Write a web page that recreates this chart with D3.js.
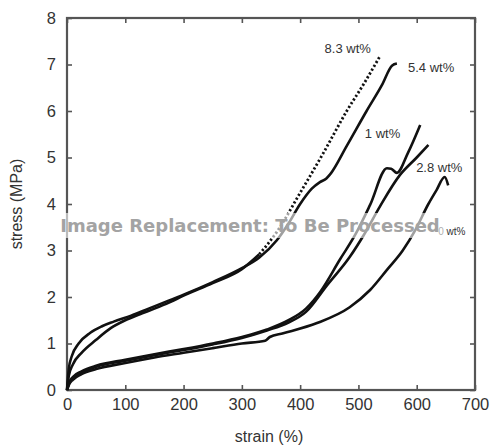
<!DOCTYPE html>
<html>
<head>
<meta charset="utf-8">
<script src="https://cdn.jsdelivr.net/npm/d3@7"></script>
<style>
  body { margin: 0; background: #fff; }
  text { font-family: "Liberation Sans", Arial, sans-serif; }
</style>
</head>
<body>
<div class="canvas"></div>
<script>
const width = 492;
const height = 447;
let [mt, mr, mb, ml] = [18, 17, 57, 67]
let graphWidth = width - ml - mr
let graphHeight = height - mt - mb

// strain (%) / stress (MPa)
const names = ["8.3 wt%", "5.4 wt%", "1 wt%", "2.8 wt%", "0 wt%"]
const curve83 = [[0,0],[3,0.3],[10,0.55],[25,0.8],[50,1.08],[75,1.33],[100,1.5],[125,1.63],[150,1.75],[175,1.88],[200,2.03],[250,2.3],[300,2.6],[330,2.92],[360,3.4],[400,4.24],[440,5.1],[480,6.0],[510,6.6],[537,7.18]]
const curve54 = [[0,0],[3,0.45],[8,0.72],[20,1.0],[40,1.23],[60,1.37],[80,1.47],[110,1.6],[140,1.75],[170,1.9],[200,2.05],[250,2.32],[300,2.62],[330,2.85],[360,3.22],[380,3.58],[400,4.0],[420,4.33],[434,4.47],[445,4.55],[451,4.63],[480,5.25],[514,6.0],[540,6.55],[558,6.98],[566,7.02]]
const curve1 = [[0,0],[4,0.17],[10,0.28],[25,0.4],[50,0.52],[100,0.65],[150,0.77],[200,0.88],[250,1.0],[300,1.14],[343,1.3],[380,1.5],[410,1.75],[435,2.12],[468,2.8],[495,3.35],[520,3.98],[549,4.77],[556,4.76],[566,4.67],[585,5.1],[606,5.7]]
const curve28 = [[0,0],[4,0.15],[10,0.26],[25,0.38],[50,0.5],[100,0.63],[150,0.75],[200,0.86],[250,0.98],[300,1.12],[343,1.28],[380,1.45],[410,1.68],[446,2.25],[485,2.86],[510,3.35],[537,3.95],[571,4.62],[600,5.0],[620,5.27]]
const curve0 = [[0,0],[4,0.13],[10,0.22],[25,0.34],[50,0.45],[100,0.58],[150,0.7],[200,0.8],[250,0.9],[300,1.0],[340,1.06],[348,1.14],[371,1.22],[429,1.44],[485,1.78],[520,2.15],[550,2.6],[576,3.0],[598,3.45],[620,4.0],[634,4.3],[648,4.58],[654,4.4]]
const curves = [curve83, curve54, curve1, curve28, curve0]
// label anchor points (strain, stress)
const labelPos = [[442,7.25],[585,6.84],[511,5.42],[599,4.69],[637,3.33]]
const xTicks = [0, 100, 200, 300, 400, 500, 600, 700]
const yTicks = [0, 1, 2, 3, 4, 5, 6, 7, 8]

const svg = d3.select(".canvas")
                .append("svg")
                .attr("width", width)
                .attr("height", height)

const graph = svg.append("g")
                    .attr("transform", `translate(${ml}, ${mt})`)

const x = d3.scaleLinear().domain([0, 700]).range([0, graphWidth])
const y = d3.scaleLinear().domain([0, 8]).range([graphHeight, 0])

const axisColor = "#555"
function styleAxis(g, showText) {
    g.select(".domain").remove()
    g.selectAll("line").attr("stroke", axisColor).attr("stroke-width", 1.6)
    g.selectAll("text").attr("fill", "#333").style("font-size", "16.5px")
    if (!showText) g.selectAll("text").remove()
}

graph.append("g")
    .attr("transform", `translate(0, ${graphHeight})`)
    .call(d3.axisBottom(x).tickValues(xTicks).tickSize(-5).tickPadding(8))
    .call(g => styleAxis(g, true))
graph.append("g")
    .call(d3.axisTop(x).tickValues(xTicks).tickSize(-5))
    .call(g => styleAxis(g, false))
graph.append("g")
    .call(d3.axisLeft(y).tickValues(yTicks).tickSize(-5).tickPadding(11))
    .call(g => styleAxis(g, true))
graph.append("g")
    .attr("transform", `translate(${graphWidth}, 0)`)
    .call(d3.axisRight(y).tickValues(yTicks).tickSize(-5))
    .call(g => styleAxis(g, false))

graph.append("rect")
    .attr("width", graphWidth)
    .attr("height", graphHeight)
    .attr("fill", "none")
    .attr("stroke", axisColor)
    .attr("stroke-width", 2.2)

const line = d3.line()
                .x(d => x(d[0]))
                .y(d => y(d[1]))
                .curve(d3.curveMonotoneX)

// 8.3 wt%: solid where it overlaps, dotted once it separates
const split = 13
graph.append("path")
    .attr("d", line(curve83.slice(0, split + 1)))
    .attr("fill", "none").attr("stroke", "#111").attr("stroke-width", 2.6)
graph.append("path")
    .attr("d", line(curve83.slice(split)))
    .attr("fill", "none").attr("stroke", "#111").attr("stroke-width", 2.8)
    .attr("stroke-dasharray", "2.2,2.2")

graph.selectAll(".curve")
    .data(curves.slice(1))
    .enter()
    .append("path")
    .attr("class", "curve")
    .attr("d", line)
    .attr("fill", "none")
    .attr("stroke", "#111")
    .attr("stroke-width", 2.6)
    .attr("stroke-linejoin", "round")

graph.selectAll(".lbl")
    .data(names)
    .enter()
    .append("text")
    .attr("class", "lbl")
    .attr("x", (d, i) => x(labelPos[i][0]))
    .attr("y", (d, i) => y(labelPos[i][1]))
    .attr("fill", "#333")
    .style("font-size", (d, i) => i == 4 ? "10px" : "13px")
    .text(d => d)

svg.append("text")
    .attr("x", ml + graphWidth / 2 - 2)
    .attr("y", 442)
    .attr("text-anchor", "middle")
    .attr("fill", "#333")
    .style("font-size", "16px")
    .text("strain (%)")

svg.append("text")
    .attr("transform", `translate(22, ${mt + graphHeight / 2}) rotate(-90)`)
    .attr("text-anchor", "middle")
    .attr("fill", "#333")
    .style("font-size", "16px")
    .text("stress (MPa)")

// placeholder banner over the picture
svg.append("rect")
    .attr("x", 58).attr("y", 213).attr("width", 388).attr("height", 25)
    .attr("fill", "#fff").attr("opacity", 0.6)
svg.append("text")
    .attr("x", 250)
    .attr("y", 232)
    .attr("text-anchor", "middle")
    .attr("fill", "#a3a3a3")
    .style("font-family", "'DejaVu Sans', sans-serif")
    .style("font-size", "18px")
    .style("font-weight", "bold")
    .text("Image Replacement: To Be Processed")
</script>
</body>
</html>
